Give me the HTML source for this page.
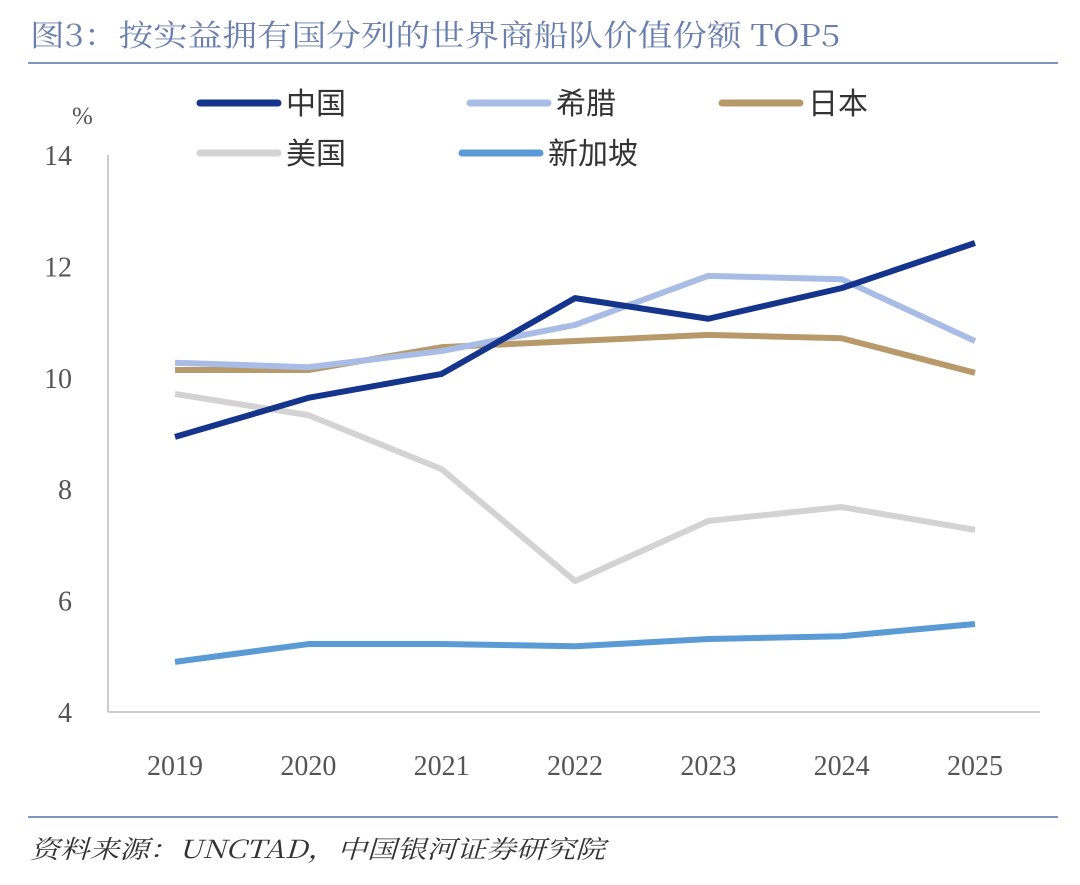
<!DOCTYPE html>
<html><head><meta charset="utf-8"><style>
body{margin:0;background:#fff;width:1080px;height:880px;overflow:hidden;font-family:"Liberation Serif","Noto Serif CJK SC",serif;}
</style></head><body>
<svg width="1080" height="880">
<text x="30" y="46" font-size="30" fill="#6a7fae" textLength="810" lengthAdjust="spacingAndGlyphs" font-family="'Noto Serif CJK SC',serif">图3：按实益拥有国分列的世界商船队价值份额 TOP5</text>
<line x1="28" y1="63" x2="1058" y2="63" stroke="#7f95c0" stroke-width="2"/>
<line x1="28" y1="817" x2="1058" y2="817" stroke="#7f95c0" stroke-width="2"/>
<text x="30" y="858" font-size="25" font-style="italic" fill="#333" textLength="575" lengthAdjust="spacingAndGlyphs" font-family="'Noto Serif CJK SC',serif">资料来源：UNCTAD，中国银河证券研究院</text>
<text x="72" y="124" font-size="25" fill="#555">%</text>
<g id="axes"></g>
<g id="series"></g>
<g id="legend"></g>
</svg>
<script>
const years=["2019","2020","2021","2022","2023","2024","2025"];
const yTicks=[4,6,8,10,12,14];
const china=[8.94,9.64,10.07,11.43,11.06,11.61,12.42];
const greece=[10.27,10.19,10.48,10.95,11.83,11.77,10.66];
const japan=[10.14,10.14,10.55,10.66,10.77,10.71,10.09];
const usa=[9.71,9.33,8.36,6.35,7.43,7.68,7.27];
const singapore=[4.90,5.22,5.22,5.18,5.31,5.36,5.58];
const seriesNames=["中国","希腊","日本","美国","新加坡"];
const NS="http://www.w3.org/2000/svg";
function xS(i){return 175+i*133.33;}
function yS(v){return 712-(v-4)*55.7;}
function mk(t,a,p){const e=document.createElementNS(NS,t);for(const k in a)e.setAttribute(k,a[k]);p.appendChild(e);return e;}
const ax=document.getElementById('axes');
const yl=mk('line',{x1:108,y1:155,x2:108,y2:712,stroke:'#bbb','stroke-width':1.5},ax);


const xl=mk('line',{x1:108,y1:712,x2:1040,y2:712,stroke:'#bbb','stroke-width':1.5},ax);


yTicks.forEach(v=>{const t=mk('text',{x:72,y:yS(v)+10,'font-size':28,fill:'#555','text-anchor':'end'},ax);t.textContent=v;

});
years.forEach((y,i)=>{const t=mk('text',{x:xS(i),y:775,'font-size':28,fill:'#555','text-anchor':'middle'},ax);t.textContent=y;

});
const all=[[japan,'#b89a6a','japan'],[greece,'#a8bce6','greece'],[usa,'#d3d3d3','usa'],[singapore,'#5b9bd5','singapore'],[china,'#15348c','china']];
const sg=document.getElementById('series');
all.forEach(([d,c,n])=>{const p=mk('polyline',{points:d.map((v,i)=>xS(i)+','+yS(v)).join(' '),fill:'none',stroke:c,'stroke-width':6,'stroke-linejoin':'round'},sg);

});
const lg=document.getElementById('legend');
const items=[[200,103,'#15348c',0],[470,103,'#a8bce6',1],[722,103,'#b89a6a',2],[200,153,'#d3d3d3',3],[462,153,'#5b9bd5',4]];
items.forEach(([x,y,c,k])=>{
const l=mk('line',{x1:x,y1:y,x2:x+78,y2:y,stroke:c,'stroke-width':7,'stroke-linecap':'round'},lg);


const t=mk('text',{x:x+86,y:y+11,'font-size':30,fill:'#333','font-family':"'Noto Sans CJK SC',sans-serif"},lg);t.textContent=seriesNames[k];

});
</script>
</body></html>
